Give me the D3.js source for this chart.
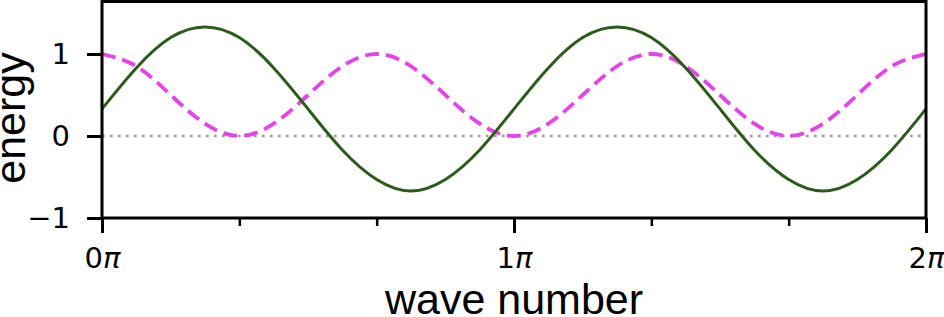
<!DOCTYPE html>
<html>
<head>
<meta charset="utf-8">
<script src="https://cdn.jsdelivr.net/npm/d3@7"></script>
<style>
    html, body { margin: 0; padding: 0; background: #fff; }
    svg { display: block; }
</style>
</head>
<body>
<div id="chart"></div>
<script>
// Valores (x em unidades de pi, passo de pi/12)
const waveNumber = [0, 1/12, 2/12, 3/12, 4/12, 5/12, 6/12, 7/12, 8/12, 9/12, 10/12, 11/12,
    1, 13/12, 14/12, 15/12, 16/12, 17/12, 18/12, 19/12, 20/12, 21/12, 22/12, 23/12, 2];

const greenEnergy = [0.33, 0.83, 1.20, 1.33, 1.20, 0.83, 0.33, -0.17, -0.53, -0.67, -0.53, -0.17,
    0.33, 0.83, 1.20, 1.33, 1.20, 0.83, 0.33, -0.17, -0.53, -0.67, -0.53, -0.17, 0.33];

const magentaEnergy = [1.00, 0.85, 0.50, 0.15, 0.00, 0.15, 0.50, 0.85, 1.00, 0.85, 0.50, 0.15,
    0.00, 0.15, 0.50, 0.85, 1.00, 0.85, 0.50, 0.15, 0.00, 0.15, 0.50, 0.85, 1.00];

const majorTicks = [0, 1, 2];
const minorTicks = [1/3, 2/3, 4/3, 5/3];
const yTicks = [-1, 0, 1];

const width = 944;
const height = 317;
const margin = { top: 1.5, right: 18, bottom: 99, left: 102 };

const svg = d3.select("#chart")
    .append("svg")
    .attr("width", width)
    .attr("height", height);

const x = d3.scaleLinear()
    .domain([0, 2])
    .range([margin.left, width - margin.right]);

const y = d3.scaleLinear()
    .domain([-1, 1.64])
    .range([height - margin.bottom, margin.top]);

// Linha pontilhada em zero
svg.append("line")
    .attr("x1", x(0))
    .attr("x2", x(2))
    .attr("y1", y(0))
    .attr("y2", y(0))
    .attr("stroke", "#9a9a9a")
    .attr("stroke-width", 2.6)
    .attr("stroke-dasharray", "2.6,5.4");

const line = (values) => d3.line()
    .x((d, i) => x(waveNumber[i]))
    .y(d => y(d))
    .curve(d3.curveNatural)(values);

svg.append("path")
    .attr("d", line(magentaEnergy))
    .attr("fill", "none")
    .attr("stroke", "#e444e8")
    .attr("stroke-width", 3.8)
    .attr("stroke-dasharray", "14,7");

svg.append("path")
    .attr("d", line(greenEnergy))
    .attr("fill", "none")
    .attr("stroke", "#2a5c1a")
    .attr("stroke-width", 3);

// Moldura do gráfico
svg.append("rect")
    .attr("x", x(0))
    .attr("y", y(1.64))
    .attr("width", x(2) - x(0))
    .attr("height", y(-1) - y(1.64))
    .attr("fill", "none")
    .attr("stroke", "#000")
    .attr("stroke-width", 3);

// Eixo X (ticks principais)
const xAxis = svg.append("g")
    .attr("transform", `translate(0,${y(-1)})`)
    .call(d3.axisBottom(x).tickValues(majorTicks).tickSize(15).tickFormat(""));

xAxis.select(".domain").remove();
xAxis.selectAll(".tick line").attr("stroke-width", 3);
xAxis.selectAll(".tick text").remove();
xAxis.selectAll(".tick").append("text")
    .attr("y", 50)
    .attr("text-anchor", "middle")
    .attr("fill", "#000")
    .style("font-family", "DejaVu Sans")
    .style("font-size", "29px")
    .each(function (d) {
        const t = d3.select(this);
        t.append("tspan").text(d);
        t.append("tspan").attr("font-style", "italic").text("π");
    });

// Ticks menores
const xMinor = svg.append("g")
    .attr("transform", `translate(0,${y(-1)})`)
    .call(d3.axisBottom(x).tickValues(minorTicks).tickSize(8).tickFormat(""));
xMinor.select(".domain").remove();
xMinor.selectAll(".tick line").attr("stroke-width", 2.5);

// Eixo Y
const yAxis = svg.append("g")
    .attr("transform", `translate(${x(0)},0)`)
    .call(d3.axisLeft(y).tickValues(yTicks).tickSize(15).tickPadding(17)
        .tickFormat(d => d < 0 ? "\u2212" + Math.abs(d) : d));

yAxis.select(".domain").remove();
yAxis.selectAll(".tick line").attr("stroke-width", 3);
yAxis.selectAll(".tick text")
    .attr("fill", "#000")
    .style("font-family", "DejaVu Sans")
    .style("font-size", "29px");

// Rótulos dos eixos
svg.append("text")
    .attr("x", x(1))
    .attr("y", 314)
    .attr("text-anchor", "middle")
    .style("font-family", "Liberation Sans")
    .style("font-size", "43px")
    .text("wave number");

svg.append("text")
    .attr("transform", `translate(25,118) rotate(-90)`)
    .attr("text-anchor", "middle")
    .style("font-family", "Liberation Sans")
    .style("font-size", "43px")
    .text("energy");
</script>
</body>
</html>
